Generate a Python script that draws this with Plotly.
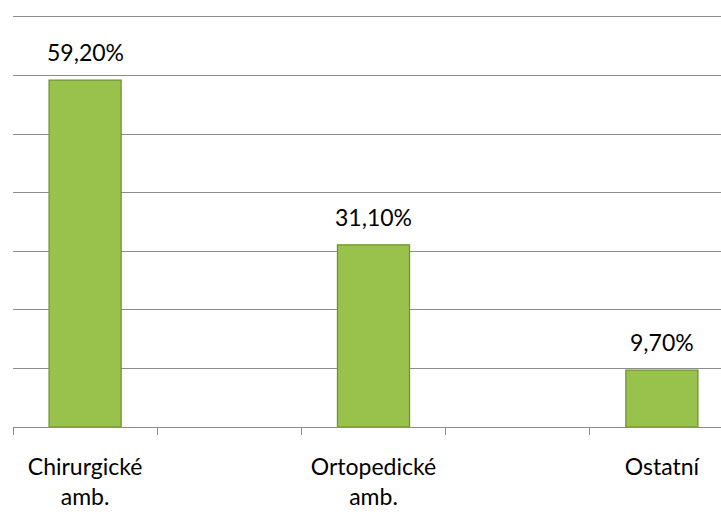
import plotly.graph_objects as go

categories = ["Chirurgické<br>amb.", " ", "Ortopedické<br>amb.", "  ", "Ostatní"]
values = [59.2, None, 31.1, None, 9.7]
labels = ["59,20%", "", "31,10%", "", "9,70%"]

FONT = "Lato"

fig = go.Figure()
fig.add_trace(go.Bar(
    x=categories, y=values,
    marker=dict(color="#98c24c", line=dict(color="#6e8f30", width=1.2)),
    width=0.5,
))
for c, v, t in zip(categories, values, labels):
    if v is None:
        continue
    fig.add_annotation(x=c, y=v, text=t, showarrow=False, yanchor="bottom",
                       yshift=12, font=dict(size=23, family=FONT, color="#000000"))

fig.update_layout(
    width=721, height=512,
    margin=dict(l=13, r=0, t=14, b=85),
    plot_bgcolor="white", paper_bgcolor="white",
    showlegend=False,
    font=dict(family=FONT, size=23, color="#000000"),
    xaxis=dict(type="category", range=[-0.5, 4.41], tickson="boundaries",
               ticks="outside", ticklen=7, tickcolor="#8c8c8c",
               showline=True, linecolor="#8c8c8c", linewidth=1,
               showgrid=False, ticklabelstandoff=19,
               tickfont=dict(size=23, family=FONT)),
    yaxis=dict(range=[0, 70.5], dtick=10, showticklabels=False,
               showgrid=True, gridcolor="#8c8c8c", gridwidth=1,
               zeroline=False, showline=False),
)
fig.write_html("out.html")
